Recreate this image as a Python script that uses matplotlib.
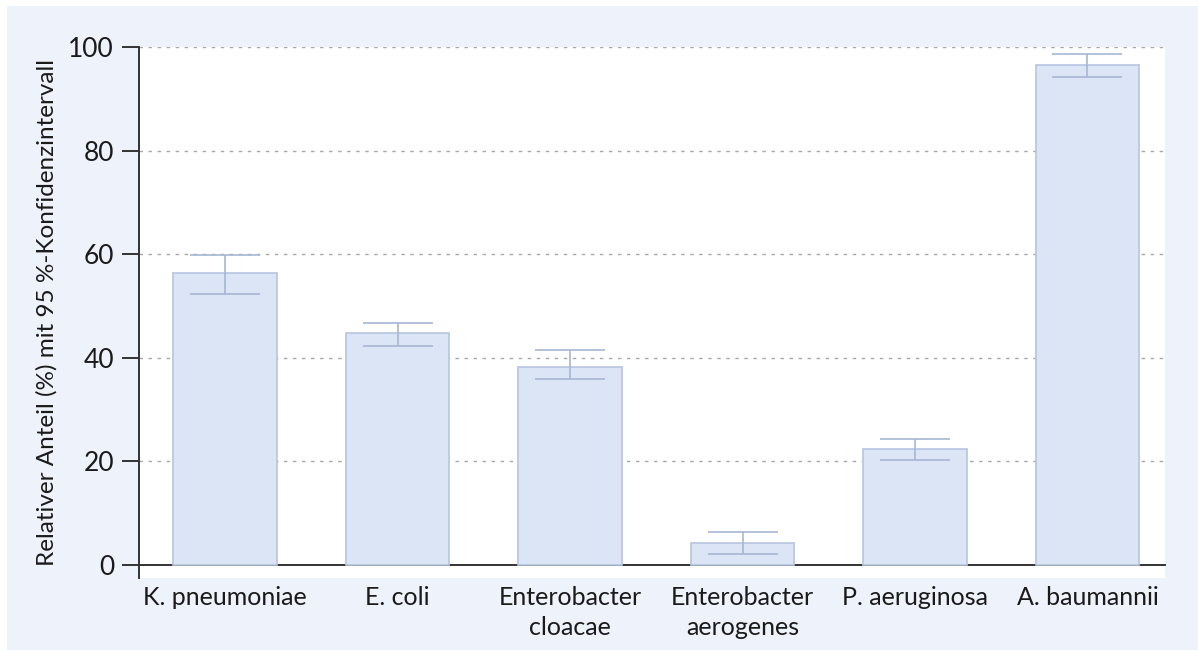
import numpy as np
import matplotlib
matplotlib.use("Agg")
from matplotlib import pyplot as plt

categories = ["K. pneumoniae", "E. coli", "Enterobacter\ncloacae",
              "Enterobacter\naerogenes", "P. aeruginosa", "A. baumannii"]
anteil = [56.3, 44.8, 38.2, 4.3, 22.4, 96.6]
ci_low = [52.4, 42.3, 36.0, 2.1, 20.2, 94.3]
ci_high = [59.9, 46.7, 41.5, 6.4, 24.4, 98.7]

plt.rcParams['font.family'] = ['Lato', 'DejaVu Sans']

fig = plt.figure(figsize=(11.98, 6.5), dpi=100)
fig.patch.set_facecolor("white")
bg = plt.Rectangle((7 / 1198, 0), 1, 1 - 6 / 650, transform=fig.transFigure,
                   facecolor="#eef2fa", edgecolor="none", zorder=-10)
fig.patches.append(bg)

ax = fig.add_axes([139 / 1198, 72 / 650, (1165 - 139) / 1198, (578 - 47) / 650])
ax.set_facecolor("white")

x = np.arange(len(categories))
yerr = [np.array(anteil) - np.array(ci_low), np.array(ci_high) - np.array(anteil)]
ax.bar(x, anteil, width=0.6, color="#dce5f5", edgecolor="#b7c5e0", linewidth=1.2, zorder=3)
ax.errorbar(x, anteil, yerr=yerr, fmt="none", ecolor="#a7b6d4", elinewidth=1.2,
            capsize=25, capthick=1.2, zorder=4)

ax.set_xlim(-0.5, 5.45)
ax.set_ylim(-2.5, 100)
ax.set_yticks([0, 20, 40, 60, 80, 100])
for v in [20, 40, 60, 80, 100]:
    ax.axhline(v, color="#a8a8a8", linestyle=(0, (2.5, 4)), linewidth=1.0, zorder=1)

ax.spines["top"].set_visible(False)
ax.spines["right"].set_visible(False)
ax.spines["bottom"].set_position(("data", 0))
ax.spines["left"].set_color("#333333")
ax.spines["bottom"].set_color("#333333")
ax.spines["left"].set_linewidth(1.4)
ax.spines["bottom"].set_linewidth(1.4)

ax.set_xticks(x)
ax.set_xticklabels(categories, fontsize=18, color="#1a1a1a", linespacing=1.4)
ax.tick_params(axis="x", length=0, pad=15)
ax.tick_params(axis="y", length=12, width=1.4, color="#333333", labelsize=19,
               labelcolor="#1a1a1a", pad=6)
ax.set_ylabel("Relativer Anteil (%) mit 95 %-Konfidenzintervall", fontsize=17.5,
              color="#1a1a1a")
ax.yaxis.set_label_coords(-0.079, 0.5)

fig.savefig("out.png", dpi=100)
